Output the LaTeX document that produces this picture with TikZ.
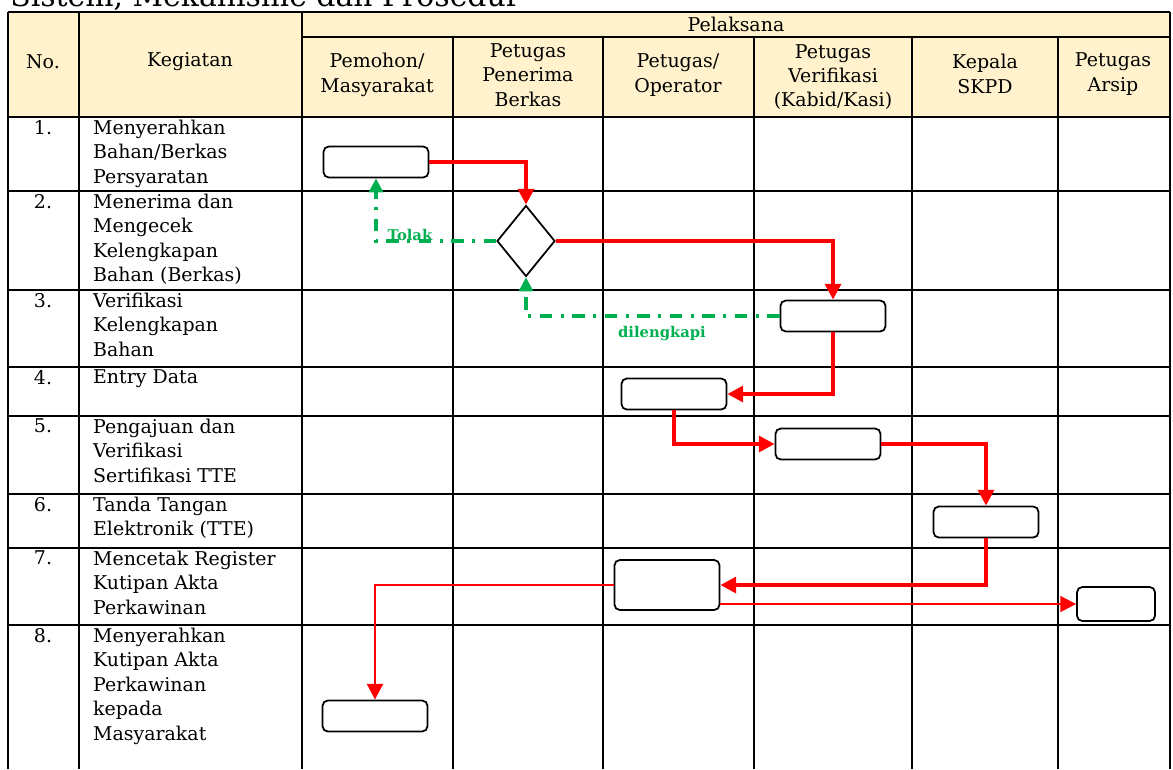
\documentclass[tikz,border=0pt]{standalone}
\usepackage{fontspec}
\setmainfont{DejaVu Serif}
\usetikzlibrary{shapes.geometric,arrows.meta}
\definecolor{headfill}{HTML}{FFF2CC}
\definecolor{tolakhijau}{HTML}{00B050}
\definecolor{alurmerah}{HTML}{FF0000}

\begin{document}
\begin{tikzpicture}[x=0.02cm,y=-0.02cm,
    font=\fontsize{10.8}{13.9}\selectfont,
    garis/.style={line width=1.4pt},
    kotak/.style={draw,rounded corners=3pt,line width=1pt,minimum width=2.1cm,minimum height=0.62cm,inner sep=0pt},
    cek/.style={draw,diamond,line width=1pt,minimum width=1.16cm,minimum height=1.42cm,inner sep=0pt},
    alur/.style={alurmerah,line width=2.2pt,-{Triangle[length=9pt,width=9pt]}},
    alurtipis/.style={alurmerah,line width=1.1pt,-{Triangle[length=9pt,width=9pt]}},
    balik/.style={tolakhijau,line width=1.9pt,dash pattern=on 7pt off 5pt on 1.5pt off 5pt,-{Triangle[length=8pt,width=8pt]}},
    ket/.style={tolakhijau,font=\fontsize{8.4}{10}\selectfont\bfseries,inner sep=0pt},
    judul/.style={align=center,inner sep=0pt},
    isi/.style={anchor=north west,align=left,inner sep=1pt},
    nomor/.style={anchor=north,inner sep=1pt}]

  \useasboundingbox (0,0) rectangle (1173,769);
  \clip (0,0) rectangle (1173,769);

  % judul bagian (terpotong di atas)
  \node[anchor=base west,inner sep=0pt,font=\fontsize{17}{19}\selectfont] (bab) at (10,6) {Sistem, Mekanisme dan Prosedur};

  % kepala tabel
  \fill[headfill] (8,12) rectangle (1170,117);
  \draw[garis] (8,12) -- (1170,12);
  \draw[garis] (302,37) -- (1170,37);
  \foreach \y in {117,191,290,367,416,494,548,625}
    \draw[garis] (8,\y) -- (1170,\y);
  \foreach \x in {8,79,302,1170}
    \draw[garis] (\x,12) -- (\x,769);
  \foreach \x in {453,603,754,912,1058}
    \draw[garis] (\x,37) -- (\x,769);

  \node[judul] (hno) at (43,62) {No.};
  \node[judul] (hkeg) at (190,62) {Kegiatan};
  \node[judul] (hpel) at (736,24) {Pelaksana};
  \node[judul] (hpem) at (377,75) {Pemohon/\\Masyarakat};
  \node[judul] (hpen) at (528,75) {Petugas\\Penerima\\Berkas};
  \node[judul] (hope) at (678,75) {Petugas/\\Operator};
  \node[judul] (hver) at (833,77) {Petugas\\Verifikasi\\(Kabid/Kasi)};
  \node[judul] (hkep) at (985,74) {Kepala\\SKPD};
  \node[judul] (hars) at (1113,74) {Petugas\\Arsip};

  % isi baris
  \foreach \n/\y/\t in {1/117/{Menyerahkan\\Bahan/Berkas\\Persyaratan},
                        2/191/{Menerima dan\\Mengecek\\Kelengkapan\\Bahan (Berkas)},
                        3/290/{Verifikasi\\Kelengkapan\\Bahan},
                        4/367/{Entry Data},
                        5/416/{Pengajuan dan\\Verifikasi\\Sertifikasi TTE},
                        6/494/{Tanda Tangan\\Elektronik (TTE)},
                        7/548/{Mencetak Register\\Kutipan Akta\\Perkawinan},
                        8/625/{Menyerahkan\\Kutipan Akta\\Perkawinan\\kepada\\Masyarakat}}{
    \node[nomor] (no\n) at (43,\y+1) {\n.};
    \node[isi] (keg\n) at (91,\y+1) {\t};
  }

  % bagan alur
  \node[kotak] (serah) at (376,162) {};
  \node[cek] (periksa) at (526,241) {};
  \node[kotak] (verif) at (833,316) {};
  \node[kotak] (entry) at (674,394) {};
  \node[kotak] (ajukan) at (828,444) {};
  \node[kotak] (tte) at (986,522) {};
  \node[kotak,minimum height=1cm] (cetak) at (667,585) {};
  \node[kotak,minimum width=1.56cm,minimum height=0.68cm] (arsip) at (1116,604) {};
  \node[kotak] (terima) at (375,716) {};

  \draw[alur] (serah.east) -| (periksa.north);
  \draw[alur] (periksa.east) -| (verif.north);
  \draw[alur] (verif.south) |- (entry.east);
  \draw[alur] (entry.south) |- (ajukan.west);
  \draw[alur] (ajukan.east) -| (tte.north);
  \draw[alur] (tte.south) |- (cetak.east);
  \draw[alur,line width=1.6pt] (cetak.west) -| (terima.north);
  \draw[alurtipis] (cetak.east |- arsip.west) -- (arsip.west);

  \draw[balik] (periksa.west) -| (serah.south);
  \draw[balik] (verif.west) -| (periksa.south);
  \node[ket] (tolak) at (410,235) {Tolak};
  \node[ket] (lengkap) at (662,334) {dilengkapi};

\end{tikzpicture}
\end{document}
